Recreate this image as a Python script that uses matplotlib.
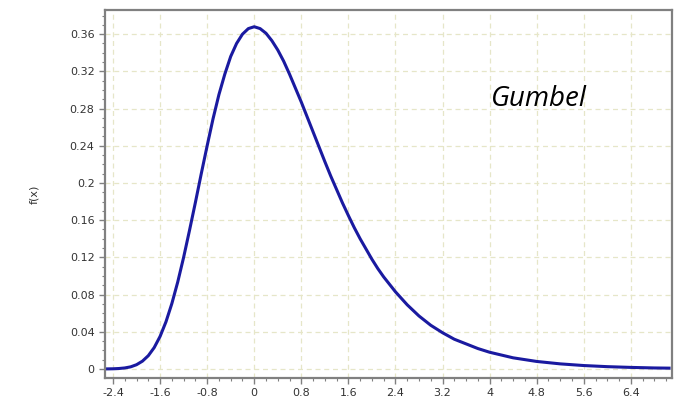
import matplotlib.pyplot as plt
from matplotlib.ticker import AutoMinorLocator

# values (Gumbel density)
x_vals = [-2.5, -2.4, -2.3, -2.2, -2.1, -2.0, -1.9, -1.8, -1.7, -1.6, -1.5,
          -1.4, -1.3, -1.2, -1.1, -1.0, -0.9, -0.8, -0.7, -0.6, -0.5, -0.4,
          -0.3, -0.2, -0.1, 0.0, 0.1, 0.2, 0.3, 0.4, 0.5, 0.6, 0.7, 0.8, 0.9,
          1.0, 1.1, 1.2, 1.3, 1.4, 1.5, 1.6, 1.7, 1.8, 1.9, 2.0, 2.1, 2.2,
          2.3, 2.4, 2.6, 2.8, 3.0, 3.2, 3.4, 3.6, 3.8, 4.0, 4.4, 4.8, 5.2,
          5.6, 6.0, 6.4, 6.8, 7.05]
f_vals = [0.0001, 0.0002, 0.0005, 0.0011, 0.0023, 0.0046, 0.0084, 0.0143,
          0.023, 0.035, 0.0507, 0.0703, 0.0935, 0.120, 0.149, 0.179, 0.210,
          0.240, 0.269, 0.295, 0.317, 0.336, 0.350, 0.360, 0.366, 0.368,
          0.366, 0.361, 0.353, 0.343, 0.331, 0.317, 0.302, 0.287, 0.271,
          0.255, 0.239, 0.223, 0.2075, 0.193, 0.1785, 0.165, 0.152, 0.140,
          0.129, 0.118, 0.108, 0.099, 0.091, 0.083, 0.069, 0.057, 0.047,
          0.039, 0.032, 0.027, 0.022, 0.018, 0.012, 0.0081, 0.0055, 0.0037,
          0.0025, 0.0017, 0.0011, 0.0009]

x_ticks = [-2.4, -1.6, -0.8, 0, 0.8, 1.6, 2.4, 3.2, 4, 4.8, 5.6, 6.4]
y_ticks = [0, 0.04, 0.08, 0.12, 0.16, 0.2, 0.24, 0.28, 0.32, 0.36]

fig = plt.figure(figsize=(6.79, 4.05), dpi=100)
ax = fig.add_axes([105 / 679, 27 / 405, 567 / 679, 368 / 405])

ax.plot(x_vals, f_vals, color='#1a1aa0', linewidth=2.2)

ax.set_xlim(-2.536, 7.1)
ax.set_ylim(-0.0097, 0.386)
ax.set_xticks(x_ticks)
ax.set_xticklabels([f'{v:g}' for v in x_ticks])
ax.set_yticks(y_ticks)
ax.set_yticklabels([f'{v:g}' for v in y_ticks])
ax.xaxis.set_minor_locator(AutoMinorLocator(4))
ax.yaxis.set_minor_locator(AutoMinorLocator(4))

ax.grid(True, which='major', color='#e6e6c8', linestyle=(0, (4, 3)), linewidth=0.9)
ax.tick_params(which='major', direction='out', length=4, width=1, color='#808080',
               labelsize=8, labelcolor='#333333')
ax.tick_params(which='minor', direction='out', length=2.5, width=0.8, color='#808080')

for side in ['left', 'bottom', 'right', 'top']:
    ax.spines[side].set_color('#808080')
    ax.spines[side].set_linewidth(1.6)

ax.set_ylabel('f(x)', fontsize=8, color='#333333', labelpad=22)

ax.text(4.84, 0.29, 'Gumbel', fontsize=20, style='italic', family='Open Sans',
        ha='center', va='center', color='black')

fig.savefig('out.png', dpi=100)
